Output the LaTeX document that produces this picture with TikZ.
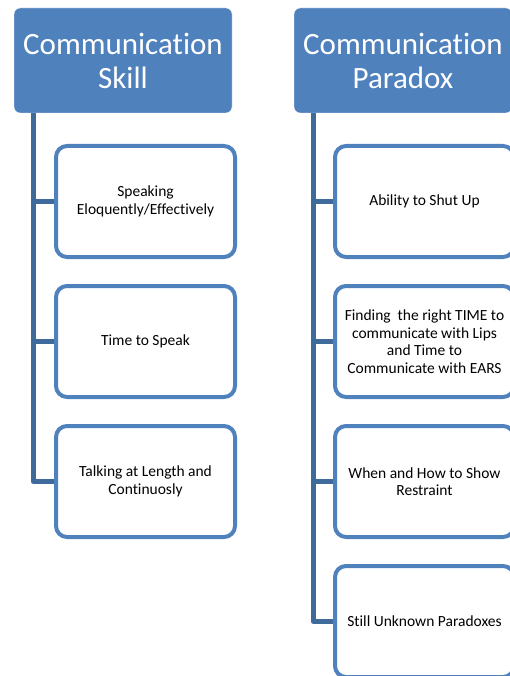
\documentclass[tikz,border=0pt]{standalone}
\usepackage{fontspec}
\setmainfont{Carlito}[Ligatures=NoCommon]
\usetikzlibrary{positioning}
\definecolor{hdrblue}{HTML}{4F81BD}
\definecolor{itemblue}{HTML}{4F81BD}
\definecolor{linkblue}{HTML}{3F6A9C}
\tikzset{
    x=1pt, y=-1pt, % one unit is one pixel of the layout
    header/.style={draw=white, thin, fill=hdrblue, rounded corners=6pt, text=white,
        minimum width=218pt, minimum height=105pt, align=center, inner sep=0pt,
        font=\fontsize{31}{34}\selectfont},
    item/.style={draw=itemblue, line width=4pt, fill=white, rounded corners=11pt,
        minimum width=179pt, minimum height=111pt, align=center, inner sep=0pt,
        font=\fontsize{15.5}{17.5}\selectfont},
    branch/.style={draw=linkblue, line width=5pt, line join=round},
}

\begin{document}
\begin{tikzpicture}
    \useasboundingbox (0,0) rectangle (509,676);

    % left column
    \node[header] (skill) at (123,60.5) {Communication\\Skill};
    \node[item] (s1) at (145.5,201.5) {Speaking\\Eloquently/Effectively};
    \node[item, below=25pt of s1] (s2) {Time to Speak};
    \node[item, below=25pt of s2] (s3) {Talking at Length and\\Continuosly};

    % right column
    \node[header] (paradox) at (403,60.5) {Communication\\Paradox};
    \node[item] (p1) at (424.5,201.5) {Ability to Shut Up};
    \node[item, below=25pt of p1] (p2) {Finding\ \ the right TIME to\\communicate with Lips\\and Time to\\Communicate with EARS};
    \node[item, below=25pt of p2] (p3) {When and How to Show\\Restraint};
    \node[item, below=25pt of p3] (p4) {Still Unknown Paradoxes};

    \coordinate (sk) at ([xshift=19.5pt]skill.south west);
    \coordinate (pk) at ([xshift=19.5pt]paradox.south west);

    \path[branch]
        (sk) |- (s1.west)
        (sk) |- (s2.west)
        (sk) |- (s3.west);
    \path[branch]
        (pk) |- (p1.west)
        (pk) |- (p2.west)
        (pk) |- (p3.west)
        (pk) |- (p4.west);
\end{tikzpicture}
\end{document}
